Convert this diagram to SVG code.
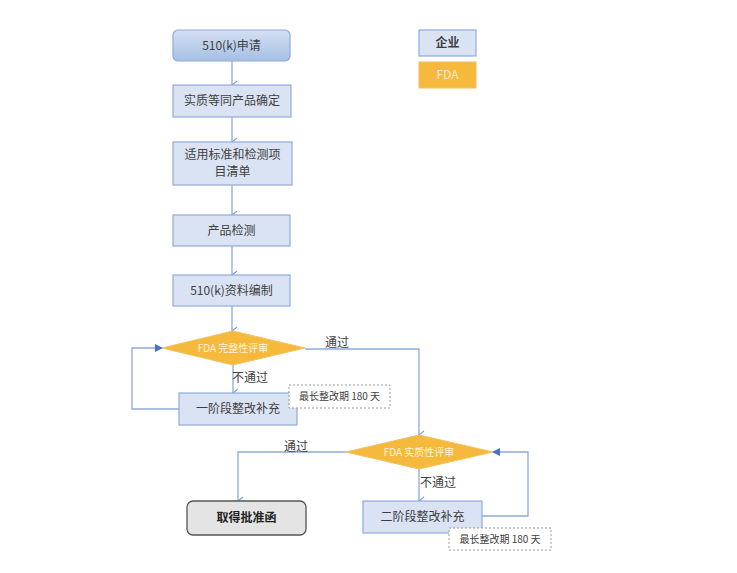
<svg xmlns="http://www.w3.org/2000/svg" width="737" height="573" viewBox="0 0 737 573">
<defs>
<linearGradient id="g1" x1="0" y1="0" x2="0" y2="1">
<stop offset="0" stop-color="#d4e0f3"/>
<stop offset="1" stop-color="#a6bfe4"/>
</linearGradient>
<marker id="av" markerWidth="10" markerHeight="10" refX="5" refY="8" orient="auto" markerUnits="userSpaceOnUse" viewBox="0 0 10 10">
<path d="M1,3 L5,8 L9,3" fill="none" stroke="#7f9fd6" stroke-width="1.2"/>
</marker>
<marker id="af" markerWidth="8" markerHeight="8" refX="7" refY="4" orient="auto" markerUnits="userSpaceOnUse" viewBox="0 0 8 8">
<path d="M0,0 L8,4 L0,8 Z" fill="#4472c4"/>
</marker>
<style>
.box{fill:#dae3f3;stroke:#8faadc;stroke-width:1.2}
.dia{fill:#f5b93b;stroke:#f2c060;stroke-width:1}
.t{font-family:"Noto Sans CJK SC","Noto Sans",sans-serif;font-size:12px;fill:#404040;text-anchor:middle}
.td{font-family:"Noto Sans CJK SC","Noto Sans",sans-serif;font-size:10px;fill:#fff3dc;text-anchor:middle}
.tn{font-family:"Noto Sans CJK SC","Noto Sans",sans-serif;font-size:10px;fill:#404040;text-anchor:middle}
.note{fill:#fff;stroke:#999;stroke-width:1;stroke-dasharray:2,2}
.c{fill:none;stroke:#8faadc;stroke-width:1.3}
</style>
</defs>
<rect width="737" height="573" fill="#fff"/>
<g id="connectors">
<line class="c" x1="232" y1="61" x2="232" y2="85" marker-end="url(#av)"/>
<line class="c" x1="232" y1="117" x2="232" y2="142" marker-end="url(#av)"/>
<line class="c" x1="232" y1="185" x2="232" y2="215" marker-end="url(#av)"/>
<line class="c" x1="232" y1="246" x2="232" y2="275" marker-end="url(#av)"/>
<line class="c" x1="232" y1="306" x2="232" y2="331" marker-end="url(#av)"/>
<line class="c" x1="233" y1="365" x2="233" y2="393" marker-end="url(#av)"/>
<polyline class="c" points="179,409 132,409 132,348 162,348" marker-end="url(#af)"/>
<polyline class="c" points="305,349 419,349 419,435" marker-end="url(#av)"/>
<polyline class="c" points="346,452 238,452 238,501" marker-end="url(#av)"/>
<line class="c" x1="419" y1="469" x2="419" y2="501" marker-end="url(#av)"/>
<polyline class="c" points="482,516 528,516 528,452 493,452" marker-end="url(#af)"/>
<text class="t" x="337" y="347">通过</text>
<text class="t" x="250" y="382">不通过</text>
<text class="t" x="296" y="451">通过</text>
<text class="t" x="438" y="487">不通过</text>
</g>
<g id="n1">
<rect x="173" y="30" width="117" height="31" rx="5" fill="url(#g1)" stroke="#8faadc" stroke-width="1.2"/>
<text class="t" x="231.5" y="50">510(k)申请</text>
</g>
<g id="n2">
<rect class="box" x="173" y="85" width="118" height="32"/>
<text class="t" x="232" y="105">实质等同产品确定</text>
</g>
<g id="n3">
<rect class="box" x="173" y="142" width="119" height="43"/>
<text class="t" x="232.5" y="159">适用标准和检测项</text>
<text class="t" x="232.5" y="176">目清单</text>
</g>
<g id="n4">
<rect class="box" x="173" y="215" width="117" height="31"/>
<text class="t" x="231.5" y="235">产品检测</text>
</g>
<g id="n5">
<rect class="box" x="173" y="275" width="117" height="31"/>
<text class="t" x="231.5" y="295">510(k)资料编制</text>
</g>
<g id="d1">
<polygon class="dia" points="233,331 305,348 233,365 162,348"/>
<text class="td" x="233" y="352">FDA 完整性评审</text>
</g>
<g id="n6">
<rect class="box" x="179" y="393" width="118" height="32"/>
<text class="t" x="238" y="413">一阶段整改补充</text>
</g>
<g id="note1">
<rect class="note" x="289" y="385" width="101" height="23"/>
<text class="tn" x="339.5" y="400">最长整改期 180 天</text>
</g>
<g id="d2">
<polygon class="dia" points="419,435 493,452 419,469 346,452"/>
<text class="td" x="419" y="456">FDA 实质性评审</text>
</g>
<g id="n7">
<rect x="187" y="501" width="119" height="34" rx="6" fill="#e4e4e4" stroke="#555" stroke-width="1.3"/>
<text class="t" x="246.5" y="522" style="font-weight:bold;fill:#222">取得批准函</text>
</g>
<g id="n8">
<rect class="box" x="363" y="501" width="119" height="32"/>
<text class="t" x="422.5" y="521">二阶段整改补充</text>
</g>
<g id="note2">
<rect class="note" x="449" y="528" width="102" height="22"/>
<text class="tn" x="500" y="543">最长整改期 180 天</text>
</g>
<g id="legend1">
<rect class="box" x="419" y="30" width="57" height="26"/>
<text class="t" x="447.5" y="47" style="font-weight:bold">企业</text>
</g>
<g id="legend2">
<rect x="419" y="62" width="57" height="26" fill="#f5b93b" stroke="#f2c060" stroke-width="1"/>
<text class="t" x="447.5" y="79" style="fill:#fdeccb">FDA</text>
</g>
</svg>
